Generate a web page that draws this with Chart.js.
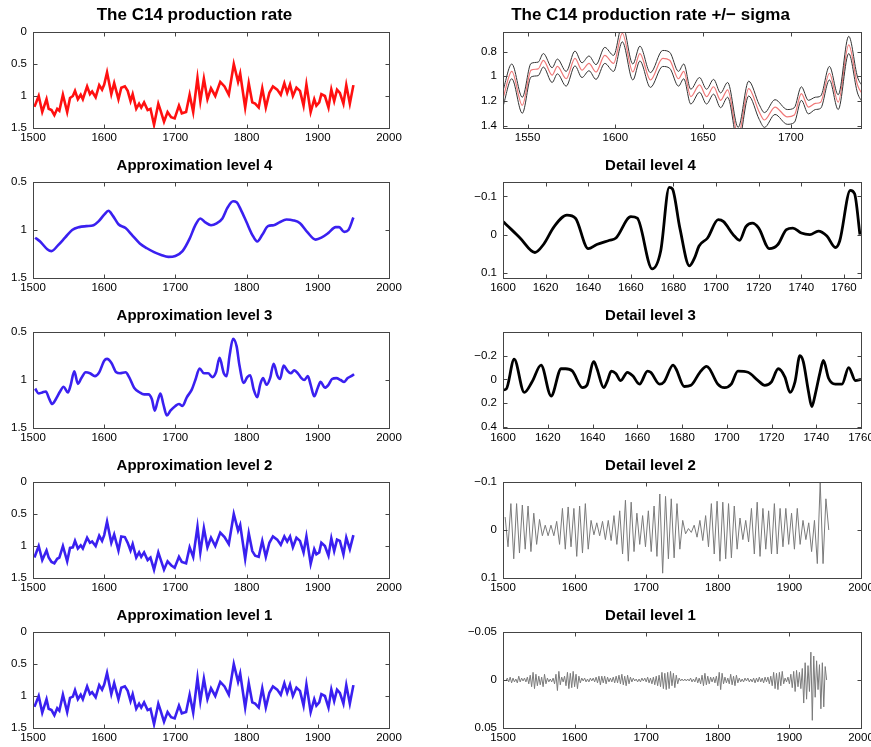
<!DOCTYPE html>
<html>
<head>
<meta charset="utf-8">
<script src="https://cdn.jsdelivr.net/npm/chart.js@4"></script>
<style>
  html, body { margin: 0; padding: 0; background: #fff; overflow: hidden; width: 871px; height: 747px; }
  canvas { position: absolute; }
</style>
</head>
<body>
<canvas id="c14"></canvas>
<canvas id="sigma"></canvas>
<canvas id="a4"></canvas>
<canvas id="d4"></canvas>
<canvas id="a3"></canvas>
<canvas id="d3"></canvas>
<canvas id="a2"></canvas>
<canvas id="d2"></canvas>
<canvas id="a1"></canvas>
<canvas id="d1"></canvas>
<script>
// ---- data ----
const c14Years = [1502, 1508, 1513, 1519, 1522, 1526, 1530, 1534, 1537, 1542, 1548, 1552, 1556, 1559, 1563, 1567,
  1570, 1576, 1580, 1583, 1588, 1593, 1597, 1600, 1604, 1610, 1614, 1620, 1624, 1629, 1633, 1637, 1640, 1645,
  1649, 1652, 1656, 1661, 1665, 1670, 1676, 1679, 1684, 1689, 1694, 1699, 1705, 1709, 1715, 1720, 1725, 1731,
  1735, 1740, 1745, 1750, 1756, 1763, 1769, 1775, 1782, 1788, 1791, 1798, 1803, 1808, 1812, 1817, 1822, 1827,
  1832, 1837, 1843, 1848, 1853, 1857, 1861, 1865, 1870, 1875, 1880, 1884, 1890, 1895, 1898, 1902, 1905, 1910,
  1915, 1919, 1923, 1927, 1931, 1936, 1940, 1945, 1950];
const c14Rate = [1.17, 1.0, 1.25, 1.05, 1.2, 1.22, 1.3, 1.2, 1.23, 0.98, 1.25, 1.03, 1.0, 0.92, 1.05, 0.98,
  1.05, 0.85, 0.97, 0.93, 1.02, 0.83, 0.9, 0.82, 0.63, 0.97, 0.8, 1.05, 0.87, 0.85, 0.92, 1.08, 0.97, 1.2,
  1.12, 1.18, 1.1, 1.22, 1.2, 1.45, 1.12, 1.22, 1.4, 1.25, 1.33, 1.35, 1.15, 1.27, 1.25, 0.98, 1.25, 0.72,
  1.08, 0.73, 1.05, 0.88, 1.0, 0.78, 0.85, 0.98, 0.5, 0.78, 0.65, 1.18, 0.8, 1.1, 1.12, 1.18, 0.88, 1.18,
  0.95, 0.85, 0.9, 0.98, 0.8, 0.95, 0.82, 1.0, 0.87, 0.92, 1.15, 0.82, 1.25, 1.05, 1.15, 1.1, 0.97, 1.0,
  1.18, 0.9, 1.08, 0.9, 0.95, 1.12, 0.83, 1.12, 0.83];
const approx1 = [1.17, 1.0, 1.26, 1.05, 1.2, 1.22, 1.3, 1.19, 1.23, 0.98, 1.25, 1.03, 1.01, 0.91, 1.05, 0.98,
  1.05, 0.85, 0.97, 0.94, 1.02, 0.83, 0.9, 0.82, 0.64, 0.97, 0.8, 1.05, 0.87, 0.85, 0.92, 1.08, 0.97, 1.2,
  1.12, 1.18, 1.1, 1.22, 1.2, 1.44, 1.12, 1.22, 1.4, 1.25, 1.33, 1.35, 1.15, 1.27, 1.25, 0.98, 1.26, 0.72,
  1.08, 0.73, 1.05, 0.88, 1.0, 0.78, 0.85, 0.98, 0.5, 0.78, 0.65, 1.18, 0.8, 1.1, 1.12, 1.18, 0.88, 1.18,
  0.95, 0.85, 0.9, 0.98, 0.8, 0.95, 0.82, 1.0, 0.87, 0.92, 1.15, 0.82, 1.25, 1.05, 1.15, 1.1, 0.97, 1.0,
  1.18, 0.9, 1.08, 0.9, 0.95, 1.12, 0.83, 1.12, 0.83];
const approx2 = [1.18, 1.0, 1.22, 1.07, 1.18, 1.25, 1.27, 1.2, 1.18, 1.0, 1.24, 1.03, 1.02, 0.92, 1.04, 0.99,
  1.04, 0.87, 0.95, 0.93, 1.0, 0.84, 0.92, 0.83, 0.62, 0.95, 0.82, 1.07, 0.85, 0.86, 0.95, 1.07, 0.97, 1.18,
  1.1, 1.17, 1.1, 1.22, 1.18, 1.37, 1.1, 1.2, 1.37, 1.24, 1.3, 1.34, 1.17, 1.25, 1.27, 1.02, 1.17, 0.7,
  1.1, 0.72, 1.02, 0.87, 1.0, 0.79, 0.86, 0.97, 0.5, 0.76, 0.67, 1.2, 0.8, 1.08, 1.15, 1.17, 0.92, 1.17,
  0.95, 0.85, 0.9, 0.98, 0.85, 0.93, 0.85, 1.02, 0.87, 0.92, 1.1, 0.85, 1.28, 1.05, 1.13, 1.1, 0.95, 1.0,
  1.15, 0.88, 1.08, 0.9, 0.92, 1.13, 0.87, 1.05, 0.83];

const approx4Years = [1503, 1510, 1520, 1526, 1535, 1545, 1555, 1565, 1575, 1585, 1592, 1600, 1606, 1612, 1620,
  1630, 1640, 1650, 1660, 1670, 1680, 1690, 1700, 1710, 1720, 1728, 1735, 1742, 1750, 1758, 1766, 1773, 1781,
  1786, 1792, 1800, 1808, 1815, 1822, 1830, 1838, 1846, 1856, 1866, 1875, 1885, 1897, 1905, 1915, 1925, 1930,
  1937, 1943, 1950];
const approx4 = [1.08, 1.12, 1.2, 1.22, 1.16, 1.08, 1.0, 0.97, 0.96, 0.95, 0.91, 0.84, 0.8, 0.85, 0.94,
  0.98, 1.06, 1.14, 1.19, 1.23, 1.26, 1.28, 1.27, 1.22, 1.09, 0.95, 0.88, 0.92, 0.95, 0.93, 0.88, 0.77, 0.7,
  0.71, 0.79, 0.92, 1.05, 1.12, 1.05, 0.96, 0.95, 0.92, 0.89, 0.9, 0.93, 1.02, 1.1, 1.08, 1.03, 0.97, 0.97,
  1.02, 1.0, 0.87];

const approx3Years = [1503, 1508, 1513, 1518, 1523, 1527, 1532, 1538, 1543, 1549, 1553, 1558, 1563, 1568, 1574,
  1580, 1587, 1593, 1600, 1604, 1610, 1617, 1622, 1630, 1635, 1642, 1650, 1656, 1662, 1667, 1671, 1675, 1679,
  1683, 1688, 1693, 1700, 1705, 1710, 1716, 1723, 1728, 1734, 1740, 1746, 1752, 1757, 1762, 1768, 1772, 1776,
  1781, 1786, 1790, 1796, 1801, 1805, 1810, 1815, 1819, 1823, 1828, 1833, 1838, 1843, 1847, 1852, 1857, 1862,
  1867, 1872, 1877, 1881, 1886, 1890, 1895, 1900, 1904, 1910, 1915, 1920, 1926, 1932, 1937, 1942, 1947, 1951];
const approx3 = [1.09, 1.14, 1.13, 1.12, 1.2, 1.25, 1.2, 1.12, 1.07, 1.13, 1.05, 0.91, 1.04, 0.98, 0.92,
  0.93, 0.96, 0.92, 0.8, 0.78, 0.82, 0.92, 0.93, 0.92, 0.97, 1.08, 1.13, 1.15, 1.15, 1.2, 1.32, 1.22, 1.14,
  1.25, 1.37, 1.32, 1.27, 1.25, 1.27, 1.18, 1.1, 1.0, 0.88, 0.93, 0.93, 0.97, 0.92, 0.77, 0.93, 0.96, 0.75,
  0.57, 0.65, 0.85, 1.03, 0.97, 0.95, 1.1, 1.18, 1.05, 0.98, 1.05, 0.98, 0.83, 0.95, 0.99, 0.85, 0.9, 0.93,
  0.9, 0.93, 0.98, 1.0, 0.96, 1.05, 1.17, 1.08, 1.02, 1.08, 1.05, 0.99, 0.98, 1.0, 1.02, 0.98, 0.96, 0.94];

const sigmaYears = [1536, 1541, 1547, 1552, 1556, 1559, 1564, 1567, 1572, 1577, 1581, 1585, 1589, 1594, 1599,
  1604, 1610, 1614, 1620, 1627, 1631, 1636, 1639, 1643, 1648, 1652, 1656, 1660, 1664, 1670, 1676, 1682, 1685,
  1691, 1698, 1702, 1706, 1710, 1714, 1717, 1722, 1727, 1733, 1738, 1741];
const sigmaCentre = [1.18, 0.96, 1.235, 0.95, 0.94, 0.87, 0.99, 0.92, 1.02, 0.855, 0.95, 0.895, 0.965, 0.83, 0.895,
  0.65, 0.965, 0.815, 1.03, 0.855, 0.87, 1.02, 0.96, 1.165, 1.07, 1.165, 1.085, 1.195, 1.11, 1.48, 1.1, 1.29, 1.355,
  1.25, 1.33, 1.315, 1.14, 1.25, 1.22, 1.21, 0.975, 1.21, 0.745, 1.07, 1.15];
const sigmaWidth = [0.065, 0.06, 0.065, 0.055, 0.055, 0.055, 0.06, 0.06, 0.06, 0.06, 0.06, 0.06, 0.06, 0.065, 0.065,
  0.07, 0.065, 0.06, 0.06, 0.065, 0.065, 0.06, 0.06, 0.06, 0.06, 0.06, 0.06, 0.06, 0.06, 0.065, 0.06, 0.06, 0.06,
  0.06, 0.06, 0.06, 0.055, 0.055, 0.05, 0.05, 0.055, 0.06, 0.07, 0.065, 0.065];

const detail4Years = [1600, 1604, 1608, 1615, 1619, 1624, 1630, 1634, 1640, 1644, 1650, 1653, 1660, 1663, 1670,
  1674, 1678, 1679.5, 1683, 1687.5, 1690, 1692, 1696, 1701, 1703.5, 1708, 1711, 1714, 1717, 1720, 1725, 1729,
  1733, 1736, 1740, 1744, 1748, 1752, 1756, 1758, 1763, 1765, 1767.5];
const detail4 = [-0.034, -0.013, 0.009, 0.047, 0.026, -0.021, -0.051, -0.043, 0.037, 0.026, 0.015, 0.009, -0.047,
  -0.043, 0.09, 0.043, -0.124, -0.12, -0.017, 0.082, 0.06, 0.03, 0.009, -0.039, -0.034, 0.0, 0.015, -0.021,
  -0.03, -0.017, 0.037, 0.026, -0.013, -0.017, -0.004, 0.0, -0.009, 0.004, 0.034, 0.017, -0.116, -0.107, 0.0];

const detail3Years = [1600, 1601.5, 1605, 1609.5, 1613, 1617, 1621.5, 1626, 1628, 1631, 1635.5, 1637.5, 1640.6,
  1642, 1645, 1646.7, 1648.4, 1650.4, 1652.6, 1655.6, 1658, 1661, 1664.6, 1666, 1670, 1672, 1676, 1677.3, 1681,
  1684, 1688, 1691, 1692.3, 1696, 1699, 1702, 1705, 1709.5, 1714, 1717, 1720, 1723, 1726, 1728.3, 1730.5, 1732.7,
  1734.2, 1736.5, 1738, 1739.5, 1741.7, 1743.2, 1745.5, 1748.5, 1751.5, 1754.5, 1757.5, 1760];
const detail3 = [0.09, 0.08, -0.17, 0.11, 0.02, -0.12, 0.14, -0.09, -0.09, -0.07, 0.07, 0.05, -0.15,
  -0.09, 0.07, 0.01, -0.07, -0.05, 0.01, -0.06, -0.03, 0.04, -0.07, -0.06, 0.04, 0.02, -0.12, -0.09, 0.06,
  0.05, -0.06, -0.11, -0.09, 0.04, 0.07, 0.04, -0.07, -0.06, 0.01, 0.05, 0.02, -0.09, -0.02, 0.11, 0.02, -0.2,
  -0.15, 0.1, 0.23, 0.13, -0.06, -0.16, -0.01, 0.04, 0.04, -0.1, 0.01, 0.0];

// detail level 2: one value every 4 years from 1503
const detail2Start = 1503;
const detail2Step = 4;
const detail2 = [-0.027, 0.035, -0.055, 0.06, -0.055, 0.048, -0.052, 0.04, -0.05, 0.045, -0.035, 0.03, -0.022,
  0.012, -0.01, 0.012, -0.01, 0.012, -0.018, 0.03, -0.045, 0.04, -0.048, 0.035, -0.045, 0.055, -0.05, 0.048,
  -0.055, 0.04, -0.02, 0.01, -0.015, 0.012, -0.018, 0.02, -0.02, 0.022, -0.03, 0.03, -0.04, 0.05, -0.062, 0.065,
  -0.058, 0.045, -0.035, 0.03, -0.03, 0.035, -0.04, 0.045, -0.05, 0.055, -0.075, 0.09, -0.07, 0.06, -0.065, 0.058,
  -0.055, 0.04, -0.02, 0.008, -0.003, 0.005, -0.01, 0.015, -0.02, 0.022, -0.03, 0.035, -0.055, 0.05, -0.06, 0.065,
  -0.058, 0.06, -0.055, 0.058, -0.05, 0.04, -0.025, 0.02, -0.02, 0.025, -0.045, 0.05, -0.058, 0.055, -0.045, 0.04,
  -0.04, 0.05, -0.055, 0.05, -0.045, 0.035, -0.045, 0.03, -0.035, 0.04, -0.045, 0.03, -0.02, 0.02, -0.015, 0.045,
  -0.02, 0.07, -0.1, 0.07, -0.065, 0.0];

// detail level 1: one value every 2 years from 1504
const detail1Start = 1504;
const detail1Step = 2;
const detail1 = [
  0.001, -0.002, 0.002, -0.003, 0.003, -0.002, 0.002, -0.001, 0.003, -0.004,
  0.002, -0.002, 0.001, -0.002, 0.002, -0.003, 0.004, -0.005, 0.007, -0.008,
  0.009, -0.006, 0.006, -0.004, 0.005, -0.003, 0.007, -0.006, 0.004, -0.002,
  0.002, -0.001, 0.002, -0.002, 0.004, -0.006, 0.011, -0.009, 0.005, -0.003,
  0.002, -0.004, 0.006, -0.008, 0.009, -0.007, 0.008, -0.009, 0.007, -0.006,
  0.009, -0.004, 0.003, -0.002, 0.001, -0.002, 0.002, -0.001, 0.002, -0.002,
  0.001, -0.002, 0.002, -0.003, 0.003, -0.004, 0.005, -0.004, 0.003, -0.004,
  0.004, -0.003, 0.002, -0.002, 0.002, -0.003, 0.003, -0.004, 0.003, -0.005,
  0.004, -0.006, 0.005, -0.004, 0.006, -0.005, 0.004, -0.003, 0.002, -0.002,
  0.001, -0.001, 0.002, -0.001, 0.002, -0.002, 0.001, -0.002, 0.002, -0.003,
  0.003, -0.002, 0.004, -0.003, 0.005, -0.004, 0.006, -0.005, 0.007, -0.008,
  0.009, -0.007, 0.01, -0.008, 0.009, -0.009, 0.006, -0.007, 0.008, -0.005,
  0.004, -0.002, 0.001, -0.001, 0.001, -0.001, 0.001, -0.001, 0.001, -0.002,
  0.002, -0.001, 0.002, -0.003, 0.003, -0.002, 0.004, -0.005, 0.006, -0.007,
  0.005, -0.004, 0.004, -0.003, 0.002, -0.003, 0.003, -0.004, 0.006, -0.008,
  0.01, -0.007, 0.004, -0.003, 0.003, -0.002, 0.004, -0.006, 0.005, -0.004,
  0.006, -0.005, 0.003, -0.002, 0.002, -0.001, 0.002, -0.002, 0.001, -0.002,
  0.002, -0.001, 0.002, -0.002, 0.003, -0.002, 0.002, -0.003, 0.002, -0.002,
  0.003, -0.003, 0.002, -0.003, 0.004, -0.004, 0.006, -0.008, 0.009, -0.007,
  0.01, -0.008, 0.006, -0.009, 0.004, -0.002, 0.002, -0.003, 0.004, -0.006,
  0.008, -0.009, 0.012, -0.01, 0.007, -0.008, 0.009, -0.012, 0.024, -0.018,
  0.02, -0.015, 0.012, -0.029, 0.042, -0.025, 0.018, -0.02, 0.01, -0.016,
  0.03, -0.018, 0.028, -0.014, 0.0];

const yearTicks = [1500, 1600, 1700, 1800, 1900, 2000];

// ---- helpers ----
Chart.defaults.font.family = '"Liberation Sans", Arial, Helvetica, sans-serif';
Chart.defaults.color = '#000';

function pairs(xs, ys) {
  return xs.map((x, i) => ({ x: x, y: ys[i] }));
}
function stepped(start, step, ys) {
  return ys.map((v, i) => ({ x: start + i * step, y: v }));
}
function fmt(v) {
  const s = String(Math.round(v * 1000) / 1000);
  return v < 0 ? '\u2212' + s.slice(1) : s;
}

// box with inward tick marks like the original figure
const boxPlugin = {
  id: 'boxPlugin',
  afterDatasetsDraw(chart) {
    const { ctx, chartArea: a, scales } = chart;
    ctx.save();
    ctx.strokeStyle = '#444';
    ctx.lineWidth = 1;
    const L = Math.round(a.left) + 0.5, R = Math.round(a.right) + 0.5;
    const T = Math.round(a.top) + 0.5, B = Math.round(a.bottom) + 0.5;
    ctx.strokeRect(L, T, R - L, B - T);
    ctx.beginPath();
    scales.x.ticks.forEach(t => {
      const px = Math.round(scales.x.getPixelForValue(t.value)) + 0.5;
      ctx.moveTo(px, B); ctx.lineTo(px, B - 4);
      ctx.moveTo(px, T); ctx.lineTo(px, T + 4);
    });
    scales.y.ticks.forEach(t => {
      const py = Math.round(scales.y.getPixelForValue(t.value)) + 0.5;
      ctx.moveTo(L, py); ctx.lineTo(L + 4, py);
      ctx.moveTo(R, py); ctx.lineTo(R - 4, py);
    });
    ctx.stroke();
    ctx.restore();
  }
};

function makePanel(id, cfg) {
  const el = document.getElementById(id);
  const right = cfg.col === 1;
  const w = right ? 440 : 420;
  el.width = w; el.height = 150;
  el.style.left = (right ? 440 : 0) + 'px';
  el.style.top = (cfg.row * 150) + 'px';
  const yAxisW = right ? 63 : 33;
  const chartW = right ? 358 : 356;
  const big = cfg.row === 0;
  return new Chart(el, {
    type: 'line',
    data: { datasets: cfg.datasets },
    options: {
      responsive: false,
      animation: false,
      devicePixelRatio: 1,
      layout: { padding: { left: 0, right: w - yAxisW - chartW, top: 0, bottom: 0 } },
      elements: { point: { radius: 0 } },
      plugins: {
        legend: { display: false },
        tooltip: { enabled: false },
        title: {
          display: true, text: cfg.title, color: '#000',
          font: { size: big ? 17 : 15, weight: 'bold' },
          padding: big ? { top: 5, bottom: 6.6 } : { top: 7, bottom: 7 }
        }
      },
      scales: {
        x: {
          type: 'linear', min: cfg.xMin, max: cfg.xMax,
          grid: { display: false, drawTicks: false },
          border: { display: false },
          ticks: { font: { size: 11.5 }, padding: 3, maxRotation: 0, autoSkip: false, callback: v => String(v) },
          afterBuildTicks: s => { s.ticks = cfg.xTicks.map(v => ({ value: v })); },
          afterFit: s => { s.height = 22; }
        },
        y: {
          type: 'linear', min: cfg.yMin, max: cfg.yMax, reverse: true,
          grid: { display: false, drawTicks: false },
          border: { display: false },
          ticks: { font: { size: 11.5 }, padding: 6, autoSkip: false, callback: v => fmt(v) },
          afterBuildTicks: s => { s.ticks = cfg.yTicks.map(v => ({ value: v })); },
          afterFit: s => { s.width = yAxisW; }
        }
      }
    },
    plugins: [boxPlugin]
  });
}

const RED = '#ff1010', BLUE = '#3a20f0', BLACK = '#000', GREY = '#7a7a7a';

function jagged(data, color) {
  return { data: data, borderColor: color, borderWidth: 2.6, tension: 0, fill: false };
}
function smooth(data, color, width) {
  return { data: data, borderColor: color, borderWidth: width, cubicInterpolationMode: 'monotone', fill: false };
}

// left column
makePanel('c14', {
  row: 0, col: 0, title: 'The C14 production rate',
  xMin: 1500, xMax: 2000, xTicks: yearTicks, yMin: 0, yMax: 1.5, yTicks: [0, 0.5, 1, 1.5],
  datasets: [jagged(pairs(c14Years, c14Rate), RED)]
});
makePanel('a4', {
  row: 1, col: 0, title: 'Approximation level 4',
  xMin: 1500, xMax: 2000, xTicks: yearTicks, yMin: 0.5, yMax: 1.5, yTicks: [0.5, 1, 1.5],
  datasets: [smooth(pairs(approx4Years, approx4), BLUE, 2.6)]
});
makePanel('a3', {
  row: 2, col: 0, title: 'Approximation level 3',
  xMin: 1500, xMax: 2000, xTicks: yearTicks, yMin: 0.5, yMax: 1.5, yTicks: [0.5, 1, 1.5],
  datasets: [smooth(pairs(approx3Years, approx3), BLUE, 2.6)]
});
makePanel('a2', {
  row: 3, col: 0, title: 'Approximation level 2',
  xMin: 1500, xMax: 2000, xTicks: yearTicks, yMin: 0, yMax: 1.5, yTicks: [0, 0.5, 1, 1.5],
  datasets: [jagged(pairs(c14Years, approx2), BLUE)]
});
makePanel('a1', {
  row: 4, col: 0, title: 'Approximation level 1',
  xMin: 1500, xMax: 2000, xTicks: yearTicks, yMin: 0, yMax: 1.5, yTicks: [0, 0.5, 1, 1.5],
  datasets: [jagged(pairs(c14Years, approx1), BLUE)]
});

// right column
const sigmaUpper = sigmaCentre.map((v, i) => v - sigmaWidth[i]);
const sigmaLower = sigmaCentre.map((v, i) => v + sigmaWidth[i]);
makePanel('sigma', {
  row: 0, col: 1, title: 'The C14 production rate +/\u2212 sigma',
  xMin: 1536, xMax: 1740, xTicks: [1550, 1600, 1650, 1700], yMin: 0.64, yMax: 1.42, yTicks: [0.8, 1, 1.2, 1.4],
  datasets: [
    smooth(pairs(sigmaYears, sigmaUpper), '#333', 1),
    smooth(pairs(sigmaYears, sigmaLower), '#333', 1),
    smooth(pairs(sigmaYears, sigmaCentre), '#f07878', 1.2)
  ]
});
makePanel('d4', {
  row: 1, col: 1, title: 'Detail level 4',
  xMin: 1600, xMax: 1768, xTicks: [1600, 1620, 1640, 1660, 1680, 1700, 1720, 1740, 1760],
  yMin: -0.138, yMax: 0.114, yTicks: [-0.1, 0, 0.1],
  datasets: [smooth(pairs(detail4Years, detail4), BLACK, 2.8)]
});
makePanel('d3', {
  row: 2, col: 1, title: 'Detail level 3',
  xMin: 1600, xMax: 1760, xTicks: [1600, 1620, 1640, 1660, 1680, 1700, 1720, 1740, 1760],
  yMin: -0.4, yMax: 0.41, yTicks: [-0.2, 0, 0.2, 0.4],
  datasets: [smooth(pairs(detail3Years, detail3), BLACK, 2.8)]
});
makePanel('d2', {
  row: 3, col: 1, title: 'Detail level 2',
  xMin: 1500, xMax: 2000, xTicks: yearTicks, yMin: -0.1, yMax: 0.1, yTicks: [-0.1, 0, 0.1],
  datasets: [{ data: stepped(detail2Start, detail2Step, detail2), borderColor: GREY, borderWidth: 1, tension: 0 }]
});
makePanel('d1', {
  row: 4, col: 1, title: 'Detail level 1',
  xMin: 1500, xMax: 2000, xTicks: yearTicks, yMin: -0.05, yMax: 0.05, yTicks: [-0.05, 0, 0.05],
  datasets: [{ data: stepped(detail1Start, detail1Step, detail1), borderColor: GREY, borderWidth: 1, tension: 0 }]
});
</script>
</body>
</html>
